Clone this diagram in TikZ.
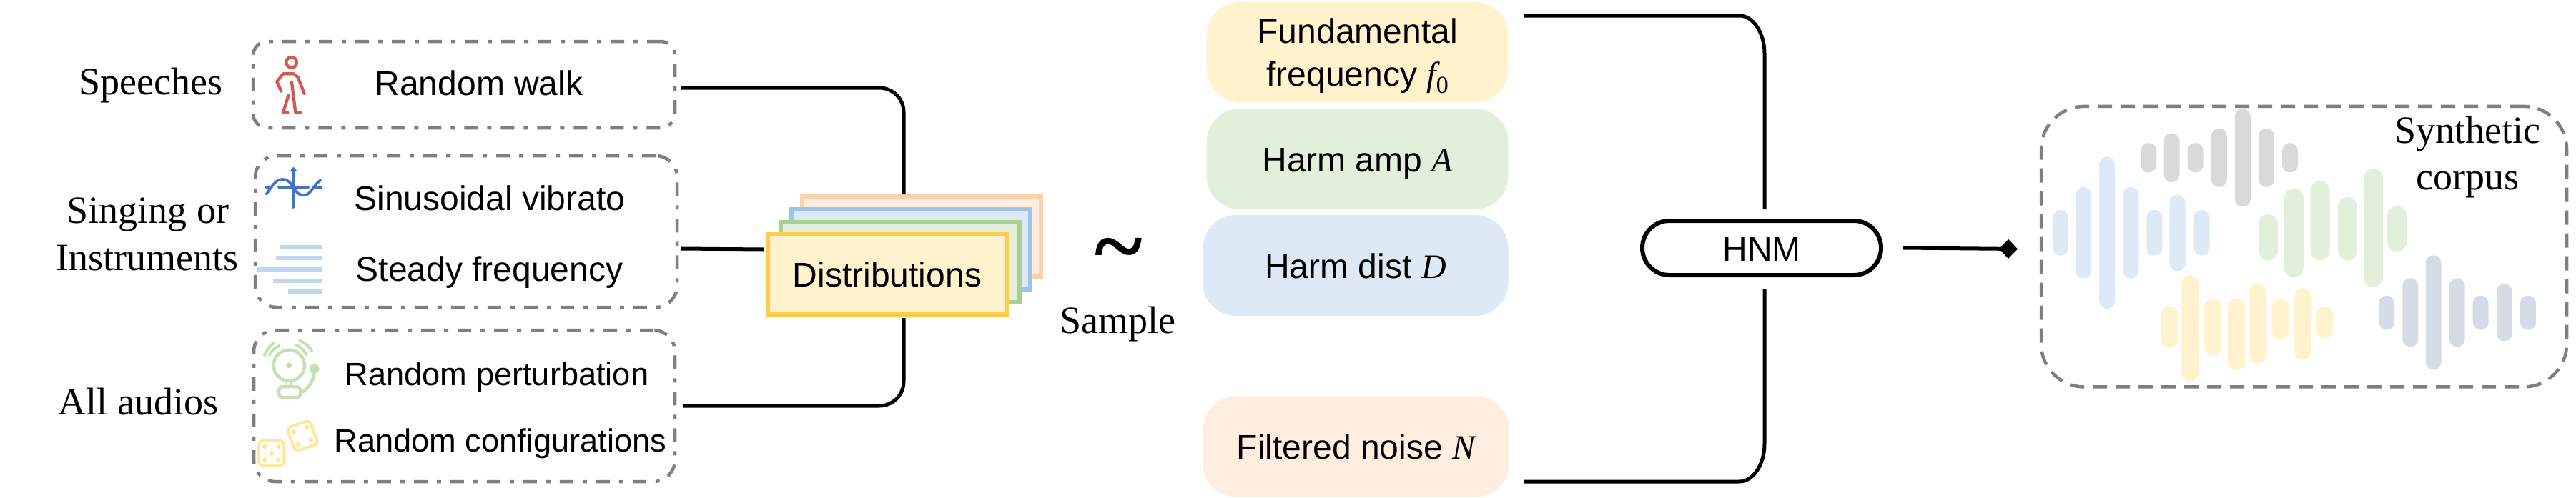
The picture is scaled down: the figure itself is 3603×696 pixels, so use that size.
\documentclass[tikz,border=0pt]{standalone}
\usepackage{fontspec}
\setmainfont{Liberation Serif}
\setsansfont{Liberation Sans}
\usetikzlibrary{arrows.meta}
\definecolor{dgray}{HTML}{7F7F7F}
\definecolor{cyel}{HTML}{FFF2CC}
\definecolor{cgrn}{HTML}{E2EFDA}
\definecolor{cblu}{HTML}{DEE9F6}
\definecolor{corg}{HTML}{FEEEDF}
\definecolor{cslate}{HTML}{D6DCE5}
\definecolor{cgry}{HTML}{D9D9D9}
\definecolor{byel}{HTML}{FFCC4D}
\definecolor{bgrn}{HTML}{A9D18E}
\definecolor{bblu}{HTML}{9DC3E6}
\definecolor{borg}{HTML}{FBD2AC}
\definecolor{iconred}{HTML}{CF5B50}
\definecolor{iconblue}{HTML}{4472C4}
\definecolor{iconline}{HTML}{BDD7EE}
\definecolor{icongreen}{HTML}{C5E0B4}
\definecolor{iconyel}{HTML}{FFE699}
\newcommand\serifit[1]{{\rmfamily\itshape #1}}
\newcommand\wavebars[4]{%
  \foreach \zx/\za/\zb in {#4} {%
    \pgfmathsetmacro\bx{2200+\zx/1.1176}%
    \fill[#1,rounded corners=#3] ({\bx-#2/2},{\za/2.253}) rectangle ({\bx+#2/2},{\zb/2.253});%
  }%
}
\tikzset{
  x=1pt,y=-1pt,
  sanstext/.style={font=\fontsize{48}{56}\selectfont\sffamily,anchor=base,inner sep=0pt},
  sanssmall/.style={font=\fontsize{45.2}{54}\selectfont\sffamily,anchor=base,inner sep=0pt},
  seriftext/.style={font=\fontsize{54}{62}\selectfont\rmfamily,anchor=base,inner sep=0pt},
  groupbox/.style={draw=dgray,line width=4.5pt,rounded corners=#1,dash pattern=on 19pt off 13pt on 6pt off 13pt,outer sep=0pt,inner sep=0pt},
  corpusbox/.style={draw=dgray,line width=4.5pt,rounded corners=60pt,dash pattern=on 20pt off 12pt,outer sep=0pt,inner sep=0pt},
  card/.style n args={2}{fill=#1,draw=#2,line width=6pt,minimum width=334pt,minimum height=112pt,outer sep=0pt,inner sep=0pt},
  param/.style={fill=#1,rounded corners=46pt,outer sep=0pt,inner sep=0pt,font=\fontsize{48}{58}\selectfont\sffamily,align=center},
  conn/.style={draw=black,line width=5pt},
  iconstroke/.style={line width=#1,line cap=round,line join=round},
}
\begin{document}
\begin{tikzpicture}
\useasboundingbox (0,0) rectangle (3603,696);

% left group boxes
\node[groupbox=20pt,minimum width=590pt,minimum height=121pt] (box1) at (649,118.5) {};
\node[groupbox=30pt,minimum width=590pt,minimum height=212pt] (box2) at (652,324) {};
\node[groupbox=30pt,minimum width=589pt,minimum height=212pt] (box3) at (649.5,568) {};

% left labels
\node[seriftext] (speeches) at (211,132) {Speeches};
\node[seriftext] (singing) at (207,312) {Singing or};
\node[seriftext] (instruments) at (206,378) {Instruments};
\node[seriftext] (allaudios) at (193.5,580) {All audios};

% box texts
\node[sanstext] (walk) at (670,133) {Random walk};
\node[sanstext] (vibrato) at (685,294) {Sinusoidal vibrato};
\node[sanstext] (steady) at (684.5,393) {Steady frequency};
\node[sanssmall] (perturb) at (695,539) {Random perturbation};
\node[sanssmall] (config) at (700,632.5) {Random configurations};

% walker icon
\begin{scope}[shift={(370,70)},scale=1/3,iconred,iconstroke=4.3pt]
  \draw (113,52) circle[radius=22];
  \draw (70,173) -- (52,133) -- (78,100) -- (122,100) -- (140,114) -- (167,183);
  \draw (114,135) -- (130,263) -- (150,263);
  \draw (100,192) -- (78,263) -- (97,263);
\end{scope}

% sine icon
\begin{scope}[shift={(360,225)},scale=1/3,iconblue,iconstroke=3.7pt]
  \draw (151,40) -- (151,195);
  \fill (137,43) -- (151,26) -- (167,43) -- cycle;
  \draw (90,110) -- (213,110);
  \draw (37,110) -- (60,110);
  \draw (245,110) -- (268,110);
  \draw (38,140) .. controls (60,110) and (75,78) .. (105,78) .. controls (130,78) and (140,95) .. (151,110) .. controls (165,135) and (175,145) .. (195,145) .. controls (225,145) and (235,100) .. (265,82);
\end{scope}

% steady frequency lines
\begin{scope}[iconline]
  \foreach \lx/\ly in {391.3/345.7,386/361,360/377,382.3/393,402.7/408} {
    \fill (\lx,\ly-3) rectangle (451,\ly+3);
  }
\end{scope}

% bell icon
\begin{scope}[shift={(355,470)},scale=1/3,icongreen,iconstroke=4.5pt]
  \draw (148,124) circle[radius=65];
  \fill (148,124) circle[radius=12];
  \fill (254,138) circle[radius=21];
  \draw (254,150) .. controls (250,190) and (230,220) .. (205,235);
  \draw[rounded corners=5pt] (105,213) rectangle (196,259);
  \draw[line width=2.5pt,line cap=butt] (138,195) -- (138,209);
  \draw[line width=2.5pt,line cap=butt] (158,195) -- (158,209);
  \draw[line width=4pt] (65,80) .. controls (75,62) and (90,50) .. (106,42);
  \draw[line width=4pt] (45,82) .. controls (55,60) and (65,42) .. (85,30);
  \draw[line width=4pt] (178,38) .. controls (195,45) and (210,60) .. (220,78);
  \draw[line width=4pt] (193,20) .. controls (212,28) and (232,45) .. (243,62);
\end{scope}

% dice icon
\begin{scope}[shift={(355,580)},scale=1/3,iconyel,iconstroke=4pt]
  \draw[rounded corners=6pt] (21,111) rectangle (127,214);
  \foreach \dx/\dy in {46/135,103/135,74/163,46/191,103/191} {
    \fill (\dx,\dy) circle[radius=10];
  }
  \draw[rounded corners=6pt] (138,58) -- (233,24) -- (271,123) -- (174,155) -- cycle;
  \foreach \dx/\dy in {168/73,222/55,240/108,186/126} {
    \fill (\dx,\dy) circle[radius=10];
  }
\end{scope}

% distribution cards
\node[card={corg}{borg}] (card4) at (1288.8,331.2) {};
\node[card={cblu}{bblu}] (card3) at (1274.2,349) {};
\node[card={cgrn}{bgrn}] (card2) at (1259,366.5) {};
\node[card={cyel}{byel},font=\fontsize{48}{56}\selectfont\sffamily,text height=40pt,text depth=5pt] (card1) at (1241,383.5) {Distributions};

% connector ends
\coordinate (s1) at (952,123);
\coordinate (s2) at (952,348);
\coordinate (s3) at (955,568);
\coordinate (d1) at (1264,272);
\coordinate (d2) at (1068,349);
\coordinate (d3) at (1264,445);
\draw[conn,rounded corners=34pt] (s1) -| (d1);
\draw[conn] (s2) -- (d2);
\draw[conn,rounded corners=34pt] (s3) -| (d3);

% tilde and sample
\node[inner sep=0pt,font=\fontsize{128}{130}\selectfont\rmfamily\bfseries] (tilde) at (1565,360) {\char"7E};
\node[seriftext] (sample) at (1563,466) {Sample};

% parameter boxes
\node[param=cyel,minimum width=421.5pt,minimum height=140pt] (f0) at (1898.7,73) {\rule{0pt}{45pt}Fundamental\\[2pt]frequency \serifit{f}{\fontsize{34}{36}\selectfont\raisebox{-10pt}{\rmfamily 0}}};
\node[param=cgrn,minimum width=421.5pt,minimum height=141pt,text height=40pt,text depth=5pt] (amp) at (1898.7,222.5) {Harm amp \serifit{A}};
\node[param=cblu,minimum width=427pt,minimum height=141pt,text height=40pt,text depth=5pt] (dist) at (1896,371.5) {Harm dist \serifit{D}};
\node[param=corg,minimum width=428.5pt,minimum height=140.5pt,text height=40pt,text depth=5pt] (noise) at (1896.7,625.2) {Filtered noise \serifit{N}};

% HNM
\node[draw=black,line width=6pt,rounded corners=38pt,fill=white,minimum width=334pt,minimum height=76pt,outer sep=0pt,inner sep=0pt,font=\fontsize{48}{56}\selectfont\sffamily,text height=37pt,text depth=0pt] (hnm) at (2464,347) {HNM};

% right connectors
\coordinate (p1) at (2131,22);
\coordinate (p4) at (2131,674);
\coordinate (h1) at (2468,293);
\coordinate (h2) at (2468,404);
\draw[conn] (p1) -- (2433,22) .. controls (2452,22) and (2468,46) .. (2468,75) -- (h1);
\draw[conn] (p4) -- (2433,674) .. controls (2452,674) and (2468,650) .. (2468,621) -- (h2);

% output arrow
\coordinate (a1) at (2661,347);
\coordinate (a2) at (2822,348.5);
\draw[conn,-{Diamond[length=26pt,width=27pt]}] (a1) -- (a2);

% corpus box
\node[corpusbox,minimum width=735pt,minimum height=392.5pt] (corpus) at (3222.5,345.2) {};

% waveforms
\wavebars{cblu}{22}{10.9pt}{762/662/806,798/590/878,835/494/974,872/590/878,909/662/806,945/614/855,983/662/806}
\wavebars{cgry}{22}{10.9pt}{900/451/544,936/420/575,973/451/544,1010/405/590,1047/343/652,1084/405/590,1121/451/544}
\wavebars{cgrn}{27}{13.4pt}{1087/676/821,1127/594/875,1168/570/821,1211/622/821,1251/532/905,1288/650/794}
\wavebars{cyel}{24}{11.9pt}{933/966/1096,965/867/1203,1000/942/1121,1037/942/1168,1071/894/1148,1106/942/1071,1141/908/1135,1175/966/1067}
\wavebars{cslate}{22}{10.9pt}{1272/932/1040,1309/877/1094,1345/805/1166,1382/877/1094,1419/932/1040,1456/895/1076,1493/932/1040}

\node[seriftext] (synth) at (3451,200) {Synthetic};
\node[seriftext] (corp) at (3451,265) {corpus};
\end{tikzpicture}
\end{document}
